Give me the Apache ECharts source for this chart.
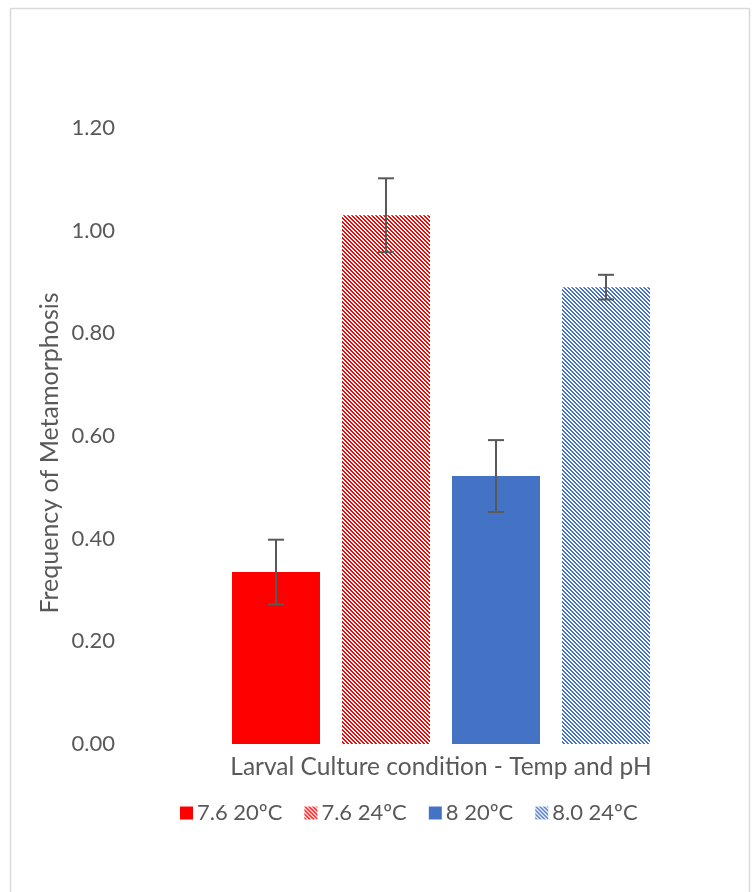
<!DOCTYPE html>
<html>
<head>
<meta charset="utf-8">
<script src="https://cdn.jsdelivr.net/npm/echarts@6/dist/echarts.min.js"></script>
<style>
html,body{margin:0;padding:0;background:#fff;}
#c{width:753px;height:892px;}
</style>
</head>
<body>
<div id="c"></div>
<script>
var categories = ['Larval Culture condition - Temp and pH'];
var seriesNames = ['7.6 20ºC', '7.6 24ºC', '8 20ºC', '8.0 24ºC'];
var values = [0.335, 1.030, 0.522, 0.890];
var errors = [0.063, 0.072, 0.070, 0.024];
var yTicks = { min: 0, max: 1.2, interval: 0.2 };

var RED = '#FF0000', BLUE = '#4472C4';
var BAR_W = 88, GAP = 22;

function hatch(color) {
  var c = document.createElement('canvas');
  c.width = 4; c.height = 4;
  var ctx = c.getContext('2d');
  ctx.fillStyle = '#ffffff';
  ctx.fillRect(0, 0, 4, 4);
  ctx.fillStyle = color;
  for (var y = 0; y < 4; y++) {
    ctx.fillRect(y, y, 1, 1);
    ctx.fillRect((y + 1) % 4, y, 1, 1);
  }
  return { image: c, repeat: 'repeat' };
}

var fills = [RED, hatch(RED), BLUE, hatch(BLUE)];
var FONT = 'Lato';

var chart = echarts.init(document.getElementById('c'), null, { renderer: 'canvas' });

var series = seriesNames.map(function (name, i) {
  return {
    name: name,
    type: 'bar',
    barWidth: BAR_W,
    barGap: (GAP / BAR_W * 100) + '%',
    data: [values[i]],
    itemStyle: { color: fills[i] },
    emphasis: { disabled: true },
    animation: false
  };
});

var errData = values.map(function (v, i) {
  return [0, v - errors[i], v + errors[i], i];
});

series.push({
  type: 'custom',
  name: 'err',
  data: errData,
  encode: { x: 0, y: [1, 2] },
  z: 20,
  animation: false,
  silent: true,
  renderItem: function (params, api) {
    var i = api.value(3);
    var lo = api.coord([0, api.value(1)]);
    var hi = api.coord([0, api.value(2)]);
    var x = Math.round(lo[0] + (i - 1.5) * (BAR_W + GAP));
    var half = 8;
    var st = { stroke: '#595959', lineWidth: 2 };
    return {
      type: 'group',
      children: [
        { type: 'rect', shape: { x: x - 1, y: hi[1], width: 2, height: lo[1] - hi[1] }, style: { fill: '#595959' } },
        { type: 'line', shape: { x1: x - half, y1: lo[1], x2: x + half, y2: lo[1] }, style: st },
        { type: 'line', shape: { x1: x - half, y1: hi[1], x2: x + half, y2: hi[1] }, style: st }
      ]
    };
  }
});

chart.setOption({
  backgroundColor: '#ffffff',
  animation: false,
  grid: { left: 140, right: 11, top: 128, height: 616 },
  xAxis: {
    type: 'category',
    data: categories,
    axisLine: { show: false },
    axisTick: { show: false },
    axisLabel: { color: '#595959', fontSize: 24.5, fontFamily: FONT, margin: 11 }
  },
  yAxis: {
    type: 'value',
    min: yTicks.min, max: yTicks.max, interval: yTicks.interval,
    splitLine: { show: false },
    axisLine: { show: false },
    axisTick: { show: false },
    axisLabel: {
      color: '#595959', fontSize: 22, fontFamily: FONT, margin: 25,
      formatter: function (v) { return v.toFixed(2); }
    }
  },
  legend: {
    data: seriesNames,
    top: 797,
    left: 175,
    itemWidth: 13, itemHeight: 13,
    itemGap: 22,
    icon: 'rect',
    textStyle: { color: '#595959', fontSize: 22, fontFamily: FONT, padding: [0, 0, 0, -1] }
  },
  graphic: [
    {
      type: 'rect', silent: true,
      shape: { x: 10.5, y: 8.5, width: 739, height: 900 },
      style: { fill: 'none', stroke: '#d9d9d9', lineWidth: 1.5 }
    },
    {
      type: 'text', silent: true,
      x: 50, y: 453, rotation: Math.PI / 2,
      style: {
        text: 'Frequency of Metamorphosis', fill: '#595959',
        fontSize: 25, fontFamily: FONT, align: 'center', verticalAlign: 'middle'
      }
    }
  ],
  series: series
});
</script>
</body>
</html>
